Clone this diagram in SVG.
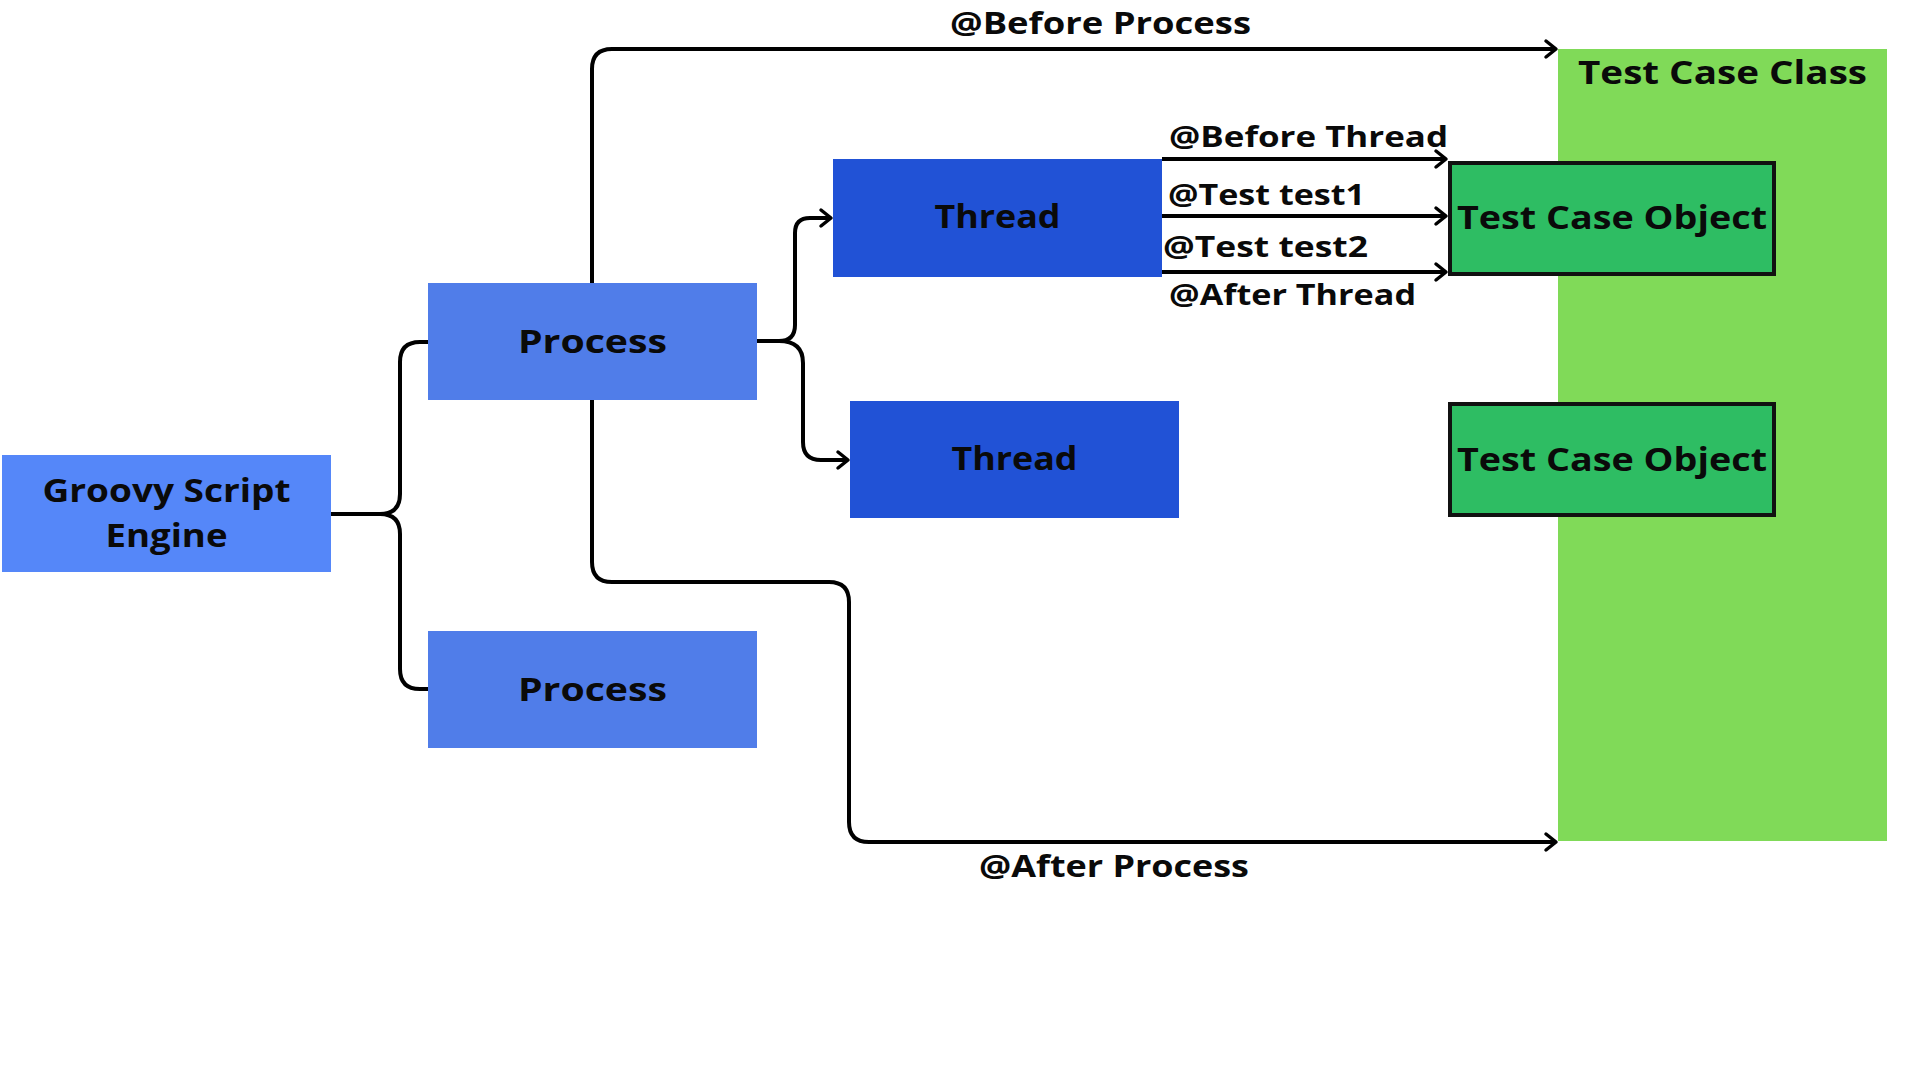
<svg xmlns="http://www.w3.org/2000/svg" width="1920" height="1080" viewBox="0 0 1920 1080">
  <style>
    .lbl { font-family: "Open Sans", "Liberation Sans", sans-serif; font-weight: 700; fill: #0a0a0a; }
    .main { font-size: 32px; text-anchor: middle; }
    .edge { font-size: 29px; }
    .conn { fill: none; stroke: #000; stroke-width: 4; stroke-linecap: butt; stroke-linejoin: round; }
    .proc { fill: #507DE9; }
    .thread { fill: #2152D6; }
    .tco { fill: #2EBD63; stroke: #111; stroke-width: 4; }
  </style>
  <defs>
    <marker id="arr" markerUnits="userSpaceOnUse" markerWidth="18" markerHeight="24" viewBox="-14 -12 18 24" refX="0" refY="0" orient="auto">
      <path d="M-10,-8 L0,0 L-10,8" fill="none" stroke="#000" stroke-width="3.5" stroke-linecap="round" stroke-linejoin="round"/>
    </marker>
  </defs>
  <rect x="0" y="0" width="1920" height="1080" fill="#ffffff"/>

  <g id="test-case-class">
    <rect x="1558" y="49" width="329" height="792" fill="#80DA58"/>
    <text class="lbl main" x="1722.5" y="84" textLength="289" lengthAdjust="spacingAndGlyphs">Test Case Class</text>
  </g>

  <g id="groovy-script-engine">
    <rect x="2" y="455" width="329" height="117" fill="#5587F9"/>
    <text class="lbl main" x="166.5" y="502" textLength="248" lengthAdjust="spacingAndGlyphs">Groovy Script</text>
    <text class="lbl main" x="166.5" y="547" textLength="122" lengthAdjust="spacingAndGlyphs">Engine</text>
  </g>

  <g id="process-1">
    <rect class="proc" x="428" y="283" width="329" height="117"/>
    <text class="lbl main" x="592.5" y="353" textLength="149" lengthAdjust="spacingAndGlyphs">Process</text>
  </g>

  <g id="process-2">
    <rect class="proc" x="428" y="631" width="329" height="117"/>
    <text class="lbl main" x="592.5" y="701" textLength="149" lengthAdjust="spacingAndGlyphs">Process</text>
  </g>

  <g id="thread-1">
    <rect class="thread" x="833" y="159" width="329" height="118"/>
    <text class="lbl main" x="997.5" y="228" textLength="126" lengthAdjust="spacingAndGlyphs">Thread</text>
  </g>

  <g id="thread-2">
    <rect class="thread" x="850" y="401" width="329" height="117"/>
    <text class="lbl main" x="1014.5" y="470" textLength="126" lengthAdjust="spacingAndGlyphs">Thread</text>
  </g>

  <g id="test-case-object-1">
    <rect class="tco" x="1450" y="163" width="324" height="111"/>
    <text class="lbl main" x="1612" y="229" textLength="310" lengthAdjust="spacingAndGlyphs">Test Case Object</text>
  </g>

  <g id="test-case-object-2">
    <rect class="tco" x="1450" y="404" width="324" height="111"/>
    <text class="lbl main" x="1612" y="471" textLength="310" lengthAdjust="spacingAndGlyphs">Test Case Object</text>
  </g>

  <g id="connectors">
    <path class="conn" d="M331,514 H380 Q400,514 400,494 V362 Q400,342 420,342 H428"/>
    <path class="conn" d="M380,514 Q400,514 400,534 V669 Q400,689 420,689 H428"/>
    <path class="conn" d="M757,341 H779 Q795,341 795,325 V233 Q795,218 810,218 H831" marker-end="url(#arr)"/>
    <path class="conn" d="M779,341 Q803,341 803,363 V442 Q803,460 821,460 H848" marker-end="url(#arr)"/>
    <path class="conn" d="M592,283 V69 Q592,49 612,49 H1556" marker-end="url(#arr)"/>
    <path class="conn" d="M592,400 V562 Q592,582 612,582 H829 Q849,582 849,602 V822 Q849,842 869,842 H1556" marker-end="url(#arr)"/>
    <path class="conn" d="M1162,159 H1446" marker-end="url(#arr)"/>
    <path class="conn" d="M1162,216 H1446" marker-end="url(#arr)"/>
    <path class="conn" d="M1162,272 H1446" marker-end="url(#arr)"/>
  </g>

  <g id="edge-labels">
    <text class="lbl edge" x="950" y="34" font-size="30" textLength="301" lengthAdjust="spacingAndGlyphs" style="font-size:30px">@Before Process</text>
    <text class="lbl edge" x="979" y="877" textLength="270" lengthAdjust="spacingAndGlyphs" style="font-size:30px">@After Process</text>
    <text class="lbl edge" x="1169" y="147" textLength="279" lengthAdjust="spacingAndGlyphs">@Before Thread</text>
    <text class="lbl edge" x="1168" y="205" textLength="197" lengthAdjust="spacingAndGlyphs">@Test test1</text>
    <text class="lbl edge" x="1163" y="257" textLength="205" lengthAdjust="spacingAndGlyphs">@Test test2</text>
    <text class="lbl edge" x="1169" y="305" textLength="247" lengthAdjust="spacingAndGlyphs">@After Thread</text>
  </g>
</svg>
